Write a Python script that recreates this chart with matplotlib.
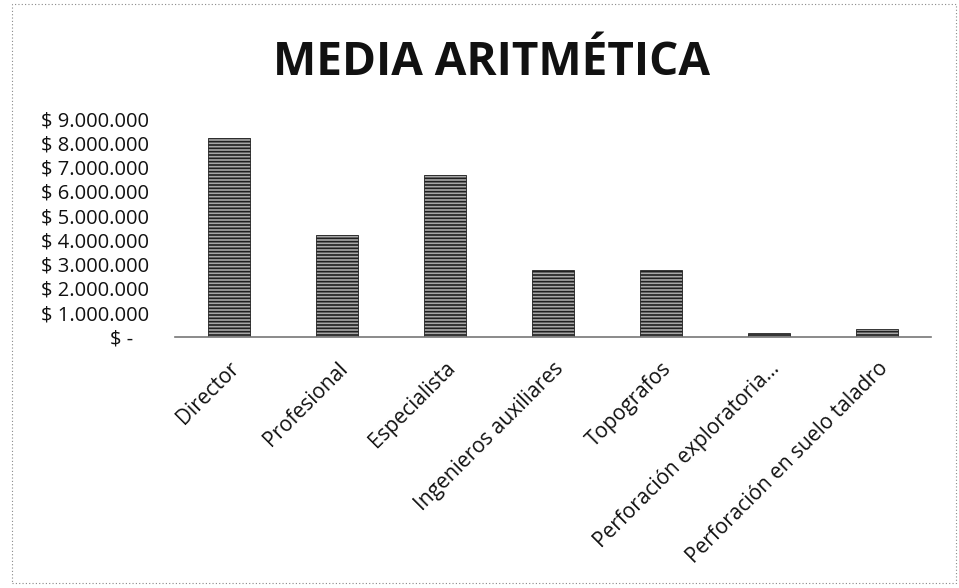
import matplotlib.pyplot as plt
from matplotlib.patches import Rectangle
from matplotlib.ticker import FuncFormatter

categories = ["Director", "Profesional", "Especialista", "Ingenieros auxiliares",
              "Topografos", "Perforación exploratoria...", "Perforación en suelo taladro"]
values = [8200000, 4200000, 6700000, 2750000, 2750000, 170000, 330000]
y_ticks = [0, 1000000, 2000000, 3000000, 4000000, 5000000, 6000000, 7000000, 8000000, 9000000]

plt.rcParams['font.family'] = ['Open Sans', 'DejaVu Sans']
plt.rcParams['hatch.linewidth'] = 1.2


def money(v, pos):
    if v == 0:
        return "$ -   "
    return "$ {:,.0f}".format(v).replace(",", ".")


fig = plt.figure(figsize=(9.59, 5.88), dpi=100)
ax = fig.add_axes([0.1825, 0.427, 0.7885, 0.371])

x = range(len(categories))
ax.bar(x, values, width=0.39, color="#a8a8a8", edgecolor="#202020",
       hatch="-----", linewidth=0.6)

ax.set_xlim(-0.5, len(categories) - 0.5)
ax.set_ylim(0, 9000000)
ax.set_yticks(y_ticks)
ax.yaxis.set_major_formatter(FuncFormatter(money))
ax.tick_params(axis="y", length=0, pad=19, labelsize=14.5, labelcolor="#111111")
ax.tick_params(axis="x", length=0, pad=15, labelsize=15, labelcolor="#111111")
ax.set_xticks(list(x))
ax.set_xticklabels(categories, rotation=45, ha="right", rotation_mode="anchor")

for side in ["top", "right", "left"]:
    ax.spines[side].set_visible(False)
ax.spines["bottom"].set_color("#777777")
ax.spines["bottom"].set_linestyle((0, (2, 1)))
ax.spines["bottom"].set_linewidth(1.2)

fig.text(0.513, 0.8724, "MEDIA ARITMÉTICA", ha="center", va="baseline",
         fontsize=33, fontweight="bold", color="#111111")

fig.patches.append(Rectangle((0.012, 0.008), 0.985, 0.985, transform=fig.transFigure,
                             fill=False, edgecolor="#888888", linewidth=0.8,
                             linestyle=(0, (1, 2))))

fig.savefig("out.png", dpi=100, facecolor="white")
